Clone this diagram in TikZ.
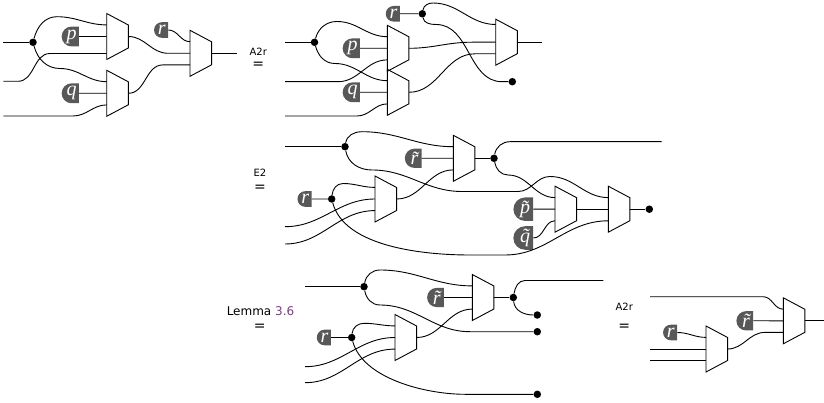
\documentclass[tikz,border=0pt]{standalone}
\usepackage{fontspec}
\newfontfamily\lblfont{DejaVu Sans}
\newfontfamily\boxfont{Liberation Serif}
\usetikzlibrary{shapes.misc}
\definecolor{boxgray}{RGB}{88,88,88}
\definecolor{refpurple}{RGB}{128,54,140}
\begin{document}
\begin{tikzpicture}[x=1pt,y=-1pt,
  wire/.style={line width=0.9pt},
  dot/.style={circle,fill=black,inner sep=0pt,minimum size=7.5pt},
  lbox/.style={rounded rectangle, rounded rectangle right arc=none, fill=boxgray, text=white,
    inner xsep=1.8pt, inner ysep=3.1pt, font=\boxfont\itshape\fontsize{20}{20}\selectfont},
  eqtext/.style={font=\lblfont\fontsize{10}{10}\selectfont, inner sep=0pt, anchor=base},
  eqsign/.style={font=\lblfont\fontsize{14}{14}\selectfont, inner sep=0pt, anchor=base},
  mux/.pic={
    \draw[line width=0.9pt] (0,-23) -- (21.6,-11.5) -- (21.6,11.5) -- (0,23) -- cycle;
    \coordinate (-t) at (0,-11.6);
    \coordinate (-m) at (0,0);
    \coordinate (-b) at (0,11.6);
    \coordinate (-o) at (21.6,0);
  }
]
\useasboundingbox (0,0) rectangle (824,403);

% ---------------- Diagram 1 ----------------
\coordinate (a1) at (3.3,42.3);
\coordinate (a2) at (3.3,81.3);
\coordinate (a3) at (3.3,116);
\node[dot] (d1) at (33,42.3) {};
\pic (P1) at (106.7,36.5) {mux};
\pic (Q1) at (106.7,93.3) {mux};
\pic (R1) at (190,53.3) {mux};
\coordinate (P1-bb) at (106.7,53.5);
\node[lbox,anchor=east] (pb1) at (79,36.5) {p};
\node[lbox,anchor=east] (qb1) at (79,93.3) {q};
\node[lbox,anchor=east] (rb1) at (168.3,30) {r};
\coordinate (o1) at (237,53.3);
\draw[wire] (a1) -- (d1);
\draw[wire] (d1) to[out=75,in=180] (57,16.7) to[out=0,in=180] (P1-t);
\draw[wire] (d1) to[out=-75,in=180] (60,68.5) to[out=0,in=180] (Q1-t);
\draw[wire] (a2) -- (18,81.3) to[out=0,in=180] (50,53.5) -- (P1-bb);
\draw[wire] (a3) -- (73,116) to[out=0,in=180] (Q1-b);
\draw[wire] (pb1) -- (P1-m);
\draw[wire] (qb1) -- (Q1-m);
\draw[wire] (rb1.east) to[out=0,in=180] (R1-t);
\draw[wire] (P1-o) to[out=0,in=180] (168,53.3) -- (R1-m);
\draw[wire] (Q1-o) to[out=0,in=180] (163,64.9) -- (R1-b);
\draw[wire] (R1-o) -- (o1);

% ---------------- Diagram 2 ----------------
\node[eqtext] (l2) at (258.3,55.7) {A2r};
\node[eqsign] (e2s) at (258.3,68.9) {=};
\coordinate (b1) at (285,42.3);
\coordinate (b2) at (285,81.7);
\coordinate (b3) at (285,116);
\node[dot] (d2) at (314.5,42.3) {};
\pic (P2) at (387.3,48.3) {mux};
\pic (Q2) at (387.3,92.3) {mux};
\pic (S2) at (495.7,42.2) {mux};
\coordinate (S2-tt) at (495.7,24.5);
\node[lbox,anchor=east] (pb2) at (360,48.3) {p};
\node[lbox,anchor=east] (qb2) at (360,92.3) {q};
\node[lbox,anchor=east] (rb2) at (400,13.8) {r};
\node[dot] (dr2) at (422.3,13.8) {};
\node[dot] (e2) at (512.3,81.7) {};
\coordinate (o2) at (541.7,42.2);
\draw[wire] (b1) -- (d2);
\draw[wire] (d2) to[out=75,in=180] (337,21.5) to[out=0,in=180] (P2-t);
\draw[wire] (d2) to[out=-75,in=180] (335,63.5) to[out=0,in=180] (Q2-t);
\draw[wire] (b2) -- (338,81.7) to[out=0,in=180] (P2-b);
\draw[wire] (b3) -- (357,116) to[out=0,in=180] (Q2-b);
\draw[wire] (pb2) -- (P2-m);
\draw[wire] (qb2) -- (Q2-m);
\draw[wire] (rb2) -- (dr2);
\draw[wire] (dr2) to[out=80,in=180] (433,3) to[out=0,in=180] (S2-tt);
\draw[wire] (dr2) to[out=-80,in=180] (436,24.5) to[out=0,in=180] (502,81.7) -- (e2);
\draw[wire] (P2-o) to[out=0,in=180] (472,42.2) -- (S2-m);
\draw[wire] (Q2-o) to[out=0,in=180] (475,53.8) -- (S2-b);
\draw[wire] (S2-o) -- (o2);

% ---------------- Diagram 3 ----------------
\node[eqtext] (l3) at (260,176.7) {E2};
\node[eqsign] (e3s) at (260,191.2) {=};
\coordinate (c1) at (285,146.7);
\coordinate (c2) at (285,226.7);
\coordinate (c3) at (285,244);
\node[dot] (dA) at (345,146.7) {};
\pic (T3) at (453.3,158.3) {mux};
\node[lbox,anchor=east] (rt3) at (421.7,158.3) {\~{r}};
\node[dot] (dB) at (494,158.3) {};
\coordinate (o3) at (661.7,141.7);
\pic (U3) at (555,209.2) {mux};
\pic (V3) at (608.3,209.2) {mux};
\node[lbox,anchor=east] (pt3) at (533.3,209.2) {\~{p}};
\node[lbox,anchor=east] (qt3) at (533.3,238) {\~{q}};
\node[dot] (eV) at (649.3,209.2) {};
\pic (W3) at (375,199) {mux};
\node[lbox,anchor=east] (rb3) at (311.7,199) {r};
\node[dot] (dr3) at (331.7,199) {};
\draw[wire] (c1) -- (dA);
\draw[wire] (dA) to[out=80,in=180] (362,131.7) to[out=0,in=180] (T3-t);
\draw[wire] (dA) to[out=-80,in=180] (372,170) to[out=0,in=180] (462,191.5) -- (518,191.5)
  to[out=0,in=180] (550,176.5) to[out=0,in=180] (V3-t);
\draw[wire] (rt3) -- (T3-m);
\draw[wire] (T3-o) -- (dB);
\draw[wire] (dB) to[out=80,in=180] (510,141.7) -- (o3);
\draw[wire] (dB) to[out=-80,in=180] (508,175) to[out=0,in=180] (U3-t);
\draw[wire] (pt3) -- (U3-m);
\draw[wire] (qt3.east) to[out=0,in=180] (U3-b);
\draw[wire] (U3-o) -- (V3-m);
\draw[wire] (V3-o) -- (eV);
\draw[wire] (rb3) -- (dr3);
\draw[wire] (dr3) to[out=85,in=180] (343,183.5) to[out=0,in=180] (W3-t);
\draw[wire] (dr3) to[out=-75,in=180,looseness=0.8] (470,255) -- (505,255) to[out=0,in=180] (V3-b);
\draw[wire] (c2) to[out=0,in=180] (W3-m);
\draw[wire] (c3) to[out=0,in=180] (W3-b);
\draw[wire] (W3-o) to[out=0,in=180] (T3-b);

% ---------------- Diagram 4 ----------------
\node[eqtext, font=\lblfont\fontsize{12}{12}\selectfont] (l4) at (260.5,315.7) {Lemma \textcolor{refpurple}{3.6}};
\node[eqsign] (e4s) at (259.7,330.6) {=};
\coordinate (f1) at (305,286.7);
\coordinate (f2) at (305,366.7);
\coordinate (f3) at (305,382.7);
\node[dot] (dC) at (364,286.7) {};
\pic (X4) at (472.3,297.5) {mux};
\node[lbox,anchor=east] (rt4) at (444,297.5) {\~{r}};
\node[dot] (dD) at (513.3,297.5) {};
\coordinate (o4) at (603.3,280.5);
\node[dot] (e4a) at (537.3,315) {};
\node[dot] (e4b) at (537.3,331.7) {};
\node[dot] (e4c) at (537.3,394.3) {};
\pic (Y4) at (395,337.5) {mux};
\node[lbox,anchor=east] (rb4) at (331,337.5) {r};
\node[dot] (dE) at (351.7,337.5) {};
\draw[wire] (f1) -- (dC);
\draw[wire] (dC) to[out=80,in=180] (380,270) to[out=0,in=180] (X4-t);
\draw[wire] (dC) to[out=-80,in=180] (380,305) to[out=0,in=180] (470,331.7) -- (e4b);
\draw[wire] (rt4) -- (X4-m);
\draw[wire] (X4-o) -- (dD);
\draw[wire] (dD) to[out=80,in=180] (525,280.5) -- (o4);
\draw[wire] (dD) to[out=-85,in=180] (e4a);
\draw[wire] (rb4) -- (dE);
\draw[wire] (dE) to[out=85,in=180] (364,323.3) to[out=0,in=180] (Y4-t);
\draw[wire] (dE) to[out=-75,in=180,looseness=0.8] (465,394.3) -- (e4c);
\draw[wire] (f2) to[out=0,in=180] (Y4-m);
\draw[wire] (f3) to[out=0,in=180] (Y4-b);
\draw[wire] (Y4-o) to[out=0,in=180] (X4-b);

% ---------------- Diagram 5 ----------------
\node[eqtext] (l5) at (624.2,310.5) {A2r};
\node[eqsign] (e5s) at (624.2,330.4) {=};
\coordinate (g1) at (650,296.7);
\coordinate (g2) at (650,349);
\coordinate (g3) at (650,360.6);
\pic (Z5) at (783.3,320.8) {mux};
\pic (Y5) at (706,349) {mux};
\node[lbox,anchor=east] (rt5) at (753.3,320.8) {\~{r}};
\node[lbox,anchor=east] (rb5) at (677.3,332.5) {r};
\coordinate (o5) at (824,320.8);
\draw[wire] (g1) -- (763,296.7) to[out=0,in=180] (Z5-t);
\draw[wire] (rt5) -- (Z5-m);
\draw[wire] (rb5.east) to[out=0,in=180] (Y5-t);
\draw[wire] (g2) -- (Y5-m);
\draw[wire] (g3) -- (Y5-b);
\draw[wire] (Y5-o) to[out=0,in=180] (765,332.4) -- (Z5-b);
\draw[wire] (Z5-o) -- (o5);
\end{tikzpicture}
\end{document}
